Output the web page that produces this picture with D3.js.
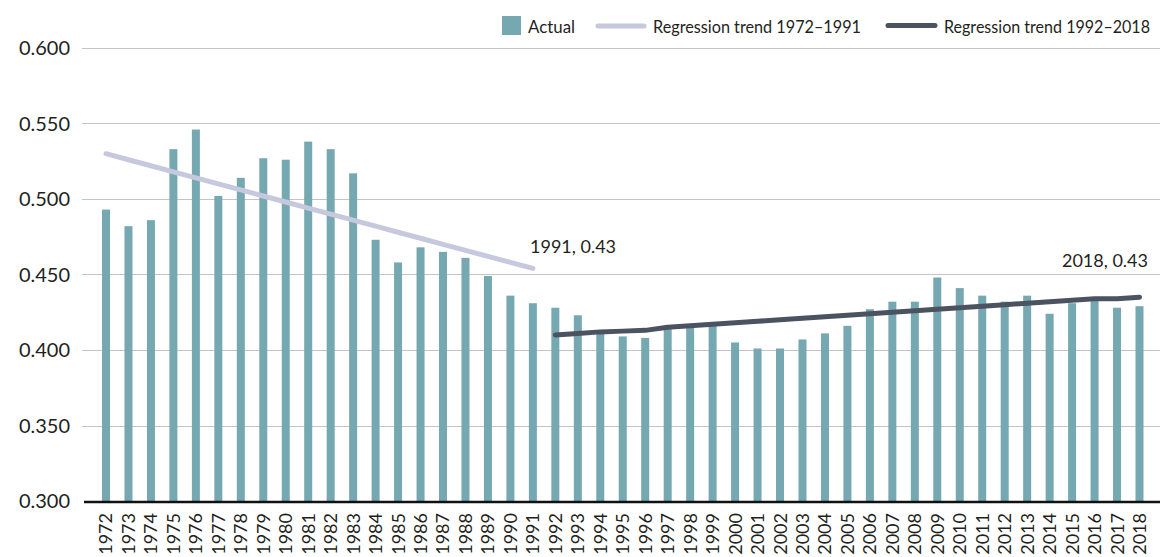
<!DOCTYPE html>
<html>
<head>
<meta charset="utf-8">
<script src="https://cdn.jsdelivr.net/npm/d3@7"></script>
<style>
  body { margin: 0; background: #fff; }
  svg { display: block; font-family: Lato, "Open Sans", sans-serif; }
</style>
</head>
<body>
<svg width="1160" height="557"></svg>
<script>
// years on the x axis
var years = [1972, 1973, 1974, 1975, 1976, 1977, 1978, 1979, 1980, 1981,
             1982, 1983, 1984, 1985, 1986, 1987, 1988, 1989, 1990, 1991,
             1992, 1993, 1994, 1995, 1996, 1997, 1998, 1999, 2000, 2001,
             2002, 2003, 2004, 2005, 2006, 2007, 2008, 2009, 2010, 2011,
             2012, 2013, 2014, 2015, 2016, 2017, 2018];

// actual values (bars)
var actual = [0.493, 0.482, 0.486, 0.533, 0.546, 0.502, 0.514, 0.527, 0.526, 0.538,
              0.533, 0.517, 0.473, 0.458, 0.468, 0.465, 0.461, 0.449, 0.436, 0.431,
              0.428, 0.423, 0.411, 0.409, 0.408, 0.414, 0.416, 0.416, 0.405, 0.401,
              0.401, 0.407, 0.411, 0.416, 0.427, 0.432, 0.432, 0.448, 0.441, 0.436,
              0.432, 0.436, 0.424, 0.431, 0.433, 0.428, 0.429];

// regression trend 1972-1991
var trend1Years = years.slice(0, 20);
var trend1 = [0.530, 0.526, 0.522, 0.518, 0.514, 0.510, 0.506, 0.502, 0.498, 0.494,
              0.490, 0.486, 0.482, 0.478, 0.474, 0.470, 0.466, 0.462, 0.458, 0.454];

// regression trend 1992-2018
var trend2Years = years.slice(20);
var trend2 = [0.410, 0.411, 0.412, 0.4125, 0.413, 0.415, 0.416, 0.417, 0.418, 0.419,
              0.420, 0.421, 0.422, 0.423, 0.424, 0.425, 0.426, 0.427, 0.428, 0.429,
              0.430, 0.431, 0.432, 0.433, 0.434, 0.434, 0.435];

var yTicks = [0.300, 0.350, 0.400, 0.450, 0.500, 0.550, 0.600];

var svg = d3.select("svg");

var x = d3.scalePoint().domain(years).range([106, 1139.5]);
var y = d3.scaleLinear().domain([0.3, 0.6]).range([501, 48]);

// gridlines
svg.append("g")
  .selectAll("line")
  .data(yTicks.slice(1))
  .enter().append("line")
    .attr("x1", 82)
    .attr("x2", 1160)
    .attr("y1", function(d) { return Math.round(y(d)) + 0.5; })
    .attr("y2", function(d) { return Math.round(y(d)) + 0.5; })
    .attr("stroke", "#c4c4c4")
    .attr("stroke-width", 1);

// y labels
svg.append("g")
  .selectAll("text")
  .data(yTicks)
  .enter().append("text")
    .attr("x", 70)
    .attr("y", function(d) { return y(d); })
    .attr("dy", "0.36em")
    .attr("text-anchor", "end")
    .attr("font-size", 20)
    .attr("fill", "#231f20")
    .text(function(d) { return d3.format(".3f")(d); });

// bars
var barW = 8;
svg.append("g")
  .selectAll("rect")
  .data(years)
  .enter().append("rect")
    .attr("x", function(d) { return x(d) - barW / 2; })
    .attr("y", function(d, i) { return y(actual[i]); })
    .attr("width", barW)
    .attr("height", function(d, i) { return y(0.3) - y(actual[i]); })
    .attr("fill", "#75a8b0");

// x axis line
svg.append("line")
  .attr("x1", 84).attr("x2", 1160)
  .attr("y1", 502).attr("y2", 502)
  .attr("stroke", "#111")
  .attr("stroke-width", 2.5);

// x labels
svg.append("g")
  .selectAll("text")
  .data(years)
  .enter().append("text")
    .attr("transform", function(d) { return "translate(" + x(d) + ",513) rotate(-90)"; })
    .attr("dy", "0.36em")
    .attr("text-anchor", "end")
    .attr("font-size", 18)
    .attr("fill", "#231f20")
    .text(function(d) { return d; });

// trend lines
var line = d3.line()
  .x(function(d) { return x(d[0]); })
  .y(function(d) { return y(d[1]); });

svg.append("path")
  .datum(d3.zip(trend1Years, trend1))
  .attr("d", line)
  .attr("fill", "none")
  .attr("stroke", "#c6c8dd")
  .attr("stroke-width", 5)
  .attr("stroke-linecap", "round")
  .attr("stroke-linejoin", "round");

svg.append("path")
  .datum(d3.zip(trend2Years, trend2))
  .attr("d", line)
  .attr("fill", "none")
  .attr("stroke", "#4b5361")
  .attr("stroke-width", 5)
  .attr("stroke-linecap", "round")
  .attr("stroke-linejoin", "round");

// annotations
svg.append("text")
  .attr("x", 530).attr("y", 253)
  .attr("font-size", 18)
  .attr("fill", "#231f20")
  .text("1991, 0.43");

svg.append("text")
  .attr("x", 1148).attr("y", 267)
  .attr("text-anchor", "end")
  .attr("font-size", 18)
  .attr("fill", "#231f20")
  .text("2018, 0.43");

// legend
var legend = svg.append("g").attr("font-size", 17).attr("fill", "#231f20");
legend.append("rect")
  .attr("x", 502).attr("y", 16).attr("width", 19).attr("height", 19)
  .attr("fill", "#75a8b0");
legend.append("text").attr("x", 528).attr("y", 33).text("Actual")
  .attr("textLength", 47).attr("lengthAdjust", "spacingAndGlyphs");
legend.append("line")
  .attr("x1", 598).attr("x2", 644).attr("y1", 26).attr("y2", 26)
  .attr("stroke", "#c6c8dd").attr("stroke-width", 5).attr("stroke-linecap", "round");
legend.append("text").attr("x", 653).attr("y", 33).text("Regression trend 1972–1991")
  .attr("textLength", 208).attr("lengthAdjust", "spacingAndGlyphs");
legend.append("line")
  .attr("x1", 888).attr("x2", 935).attr("y1", 25.5).attr("y2", 25.5)
  .attr("stroke", "#4b5361").attr("stroke-width", 5).attr("stroke-linecap", "round");
legend.append("text").attr("x", 944).attr("y", 33).text("Regression trend 1992–2018")
  .attr("textLength", 206).attr("lengthAdjust", "spacingAndGlyphs");
</script>
</body>
</html>
